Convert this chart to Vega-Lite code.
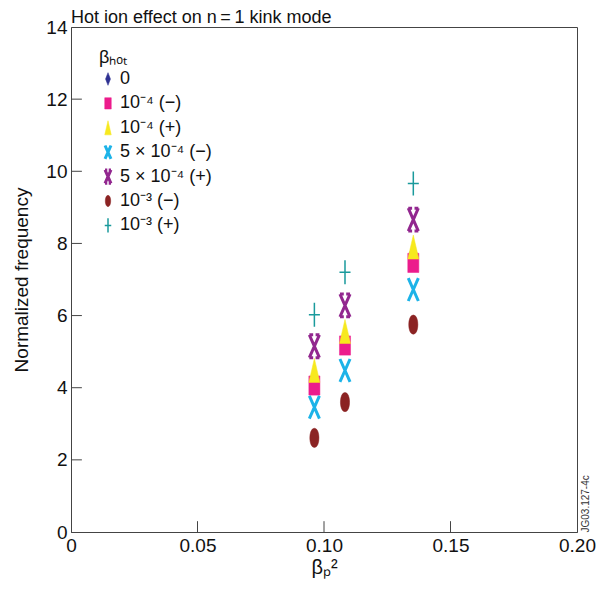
{
  "$schema": "https://vega.github.io/schema/vega-lite/v6.json",
  "autosize": "none",
  "padding": {"left": 71, "top": 27, "right": 21, "bottom": 63},
  "width": 506,
  "height": 505,
  "background": "white",
  "config": {
    "font": "Liberation Sans",
    "view": {"stroke": "#444", "strokeWidth": 1},
    "axis": {"grid": false, "domainColor": "#444", "tickColor": "#444", "labelColor": "#111", "titleColor": "#111", "labelFont": "Liberation Sans", "titleFont": "Liberation Sans", "titleFontWeight": "normal"},
    "legend": {"labelFont": "Liberation Sans", "titleFont": "Liberation Sans"}
  },
  "title": {"text": "Hot ion effect on n\u2009=\u20091 kink mode", "anchor": "start", "frame": "group", "fontSize": 18, "fontWeight": "normal", "color": "#111", "offset": -9, "font": "Liberation Sans"},
  "datasets": {
    "points": [
      {"beta2": 0.0962, "freq": 4.25, "series": "0"},
      {"beta2": 0.1083, "freq": 5.35, "series": "0"},
      {"beta2": 0.1353, "freq": 7.70, "series": "0"},
      {"beta2": 0.0962, "freq": 4.06, "series": "10⁻⁴ (−)"},
      {"beta2": 0.1083, "freq": 5.17, "series": "10⁻⁴ (−)"},
      {"beta2": 0.1353, "freq": 7.46, "series": "10⁻⁴ (−)"},
      {"beta2": 0.0962, "freq": 4.48, "series": "10⁻⁴ (+)"},
      {"beta2": 0.1083, "freq": 5.56, "series": "10⁻⁴ (+)"},
      {"beta2": 0.1353, "freq": 7.90, "series": "10⁻⁴ (+)"},
      {"beta2": 0.0962, "freq": 3.46, "series": "5 × 10⁻⁴ (−)"},
      {"beta2": 0.1083, "freq": 4.48, "series": "5 × 10⁻⁴ (−)"},
      {"beta2": 0.1353, "freq": 6.72, "series": "5 × 10⁻⁴ (−)"},
      {"beta2": 0.0962, "freq": 5.15, "series": "5 × 10⁻⁴ (+)"},
      {"beta2": 0.1083, "freq": 6.28, "series": "5 × 10⁻⁴ (+)"},
      {"beta2": 0.1353, "freq": 8.66, "series": "5 × 10⁻⁴ (+)"},
      {"beta2": 0.0962, "freq": 2.61, "series": "10⁻³ (−)"},
      {"beta2": 0.1083, "freq": 3.60, "series": "10⁻³ (−)"},
      {"beta2": 0.1353, "freq": 5.75, "series": "10⁻³ (−)"},
      {"beta2": 0.0962, "freq": 6.02, "series": "10⁻³ (+)"},
      {"beta2": 0.1083, "freq": 7.20, "series": "10⁻³ (+)"},
      {"beta2": 0.1353, "freq": 9.66, "series": "10⁻³ (+)"}
    ],
    "xticks": [{"v": 0.05}, {"v": 0.1}, {"v": 0.15}],
    "yticks": [{"v": 2}, {"v": 4}, {"v": 6}, {"v": 8}, {"v": 10}, {"v": 12}]
  },
  "layer": [
    {
      "data": {"name": "xticks"},
      "mark": {"type": "rule", "color": "#444", "strokeWidth": 1},
      "encoding": {
        "x": {"field": "v", "type": "quantitative", "scale": {"domain": [0, 0.2], "nice": false, "zero": false}, "axis": null},
        "y": {"datum": 0, "type": "quantitative", "scale": {"domain": [0, 14], "nice": false}, "axis": null},
        "y2": {"datum": 0.3}
      }
    },
    {
      "data": {"name": "yticks"},
      "mark": {"type": "rule", "color": "#444", "strokeWidth": 1},
      "encoding": {
        "y": {"field": "v", "type": "quantitative", "axis": null},
        "x": {"datum": 0, "type": "quantitative", "axis": null},
        "x2": {"datum": 0.0043}
      }
    },
    {
      "data": {"name": "points"},
      "mark": {"type": "point", "filled": true, "opacity": 1, "size": 576},
      "encoding": {
        "x": {"field": "beta2", "type": "quantitative",
          "axis": {"orient": "bottom", "title": "βₚ²", "values": [0, 0.05, 0.1, 0.15, 0.2], "labelExpr": "datum.value == 0 ? '0' : format(datum.value, '.2f')", "labelFlush": false, "labelFontSize": 19, "titleFontSize": 20, "ticks": false, "labelPadding": 4, "titlePadding": 2}},
        "y": {"field": "freq", "type": "quantitative",
          "axis": {"orient": "left", "title": "Normalized frequency", "values": [0, 2, 4, 6, 8, 10, 12, 14], "labelFontSize": 19, "titleFontSize": 19, "ticks": false, "labelPadding": 4, "titlePadding": 14}},
        "fill": {"field": "series", "type": "nominal",
          "scale": {"domain": ["0", "10⁻⁴ (−)", "10⁻⁴ (+)", "5 × 10⁻⁴ (−)", "5 × 10⁻⁴ (+)", "10⁻³ (−)", "10⁻³ (+)"],
            "range": ["#2E3192", "#EC1C8C", "#F7E91E", "#1DB3E8", "#92278F", "#8B2323", "#1A9A9C"]},
          "legend": {"title": "βₕₒₜ", "orient": "none", "legendX": 28, "legendY": 22, "titleFontSize": 18, "titleFontWeight": "normal", "titleColor": "#111", "labelFontSize": 18, "labelColor": "#111", "symbolSize": 200, "rowPadding": 4.4, "clipHeight": 20, "titlePadding": 2, "labelOffset": 3}},
        "stroke": {"field": "series", "type": "nominal",
          "scale": {"domain": ["0", "10⁻⁴ (−)", "10⁻⁴ (+)", "5 × 10⁻⁴ (−)", "5 × 10⁻⁴ (+)", "10⁻³ (−)", "10⁻³ (+)"],
            "range": ["#2E3192", "#EC1C8C", "#F7E91E", "#1DB3E8", "#92278F", "#8B2323", "#1A9A9C"]},
          "legend": {"title": "βₕₒₜ", "orient": "none", "legendX": 28, "legendY": 22, "titleFontSize": 18, "titleFontWeight": "normal", "titleColor": "#111", "labelFontSize": 18, "labelColor": "#111", "symbolSize": 200, "rowPadding": 4.4, "clipHeight": 20, "titlePadding": 2, "labelOffset": 3}},
        "shape": {"field": "series", "type": "nominal",
          "scale": {"domain": ["0", "10⁻⁴ (−)", "10⁻⁴ (+)", "5 × 10⁻⁴ (−)", "5 × 10⁻⁴ (+)", "10⁻³ (−)", "10⁻³ (+)"],
            "range": [
              "M0,-0.9L0.35,0L0,0.9L-0.35,0Z",
              "M-0.46,-0.8H0.46V0.8H-0.46Z",
              "M0,-1L0.46,1L-0.46,1Z",
              "M-0.42,-0.95L0.42,0.95M0.42,-0.95L-0.42,0.95",
              "M-0.42,-0.95L0.42,0.95M0.42,-0.95L-0.42,0.95M-0.42,-0.95H-0.1M0.1,-0.95H0.42M-0.42,0.95H-0.1M0.1,0.95H0.42",
              "M0,-0.8C0.507,-0.8 0.507,0.8 0,0.8C-0.507,0.8 -0.507,-0.8 0,-0.8Z",
              "M-0.46,0H0.46M0,-1V1"
            ]},
          "legend": {"title": "βₕₒₜ", "orient": "none", "legendX": 28, "legendY": 22, "titleFontSize": 18, "titleFontWeight": "normal", "titleColor": "#111", "labelFontSize": 18, "labelColor": "#111", "symbolSize": 200, "rowPadding": 4.4, "clipHeight": 20, "titlePadding": 2, "labelOffset": 3}},
        "strokeWidth": {"field": "series", "type": "nominal",
          "scale": {"type": "ordinal", "domain": ["0", "10⁻⁴ (−)", "10⁻⁴ (+)", "5 × 10⁻⁴ (−)", "5 × 10⁻⁴ (+)", "10⁻³ (−)", "10⁻³ (+)"],
            "range": [0.5, 0.5, 0.5, 3, 3, 0.5, 1.5]},
          "legend": {"title": "βₕₒₜ", "orient": "none", "legendX": 28, "legendY": 22, "titleFontSize": 18, "titleFontWeight": "normal", "titleColor": "#111", "labelFontSize": 18, "labelColor": "#111", "symbolSize": 200, "rowPadding": 4.4, "clipHeight": 20, "titlePadding": 2, "labelOffset": 3}}
      }
    },
    {
      "data": {"name": "points"},
      "mark": {"type": "point", "opacity": 0},
      "encoding": {
        "x": {"field": "beta2", "type": "quantitative", "axis": null},
        "y": {"field": "freq", "type": "quantitative",
          "axis": {"orient": "right", "title": "JG03.127-4c", "labels": false, "ticks": false, "domain": false, "titleFontSize": 10, "titleAngle": 270, "titleAnchor": "start", "titleAlign": "left", "titleBaseline": "top", "titlePadding": 3, "titleColor": "#333"}}
      }
    }
  ],
  "resolve": {"axis": {"x": "independent", "y": "independent"}}
}
